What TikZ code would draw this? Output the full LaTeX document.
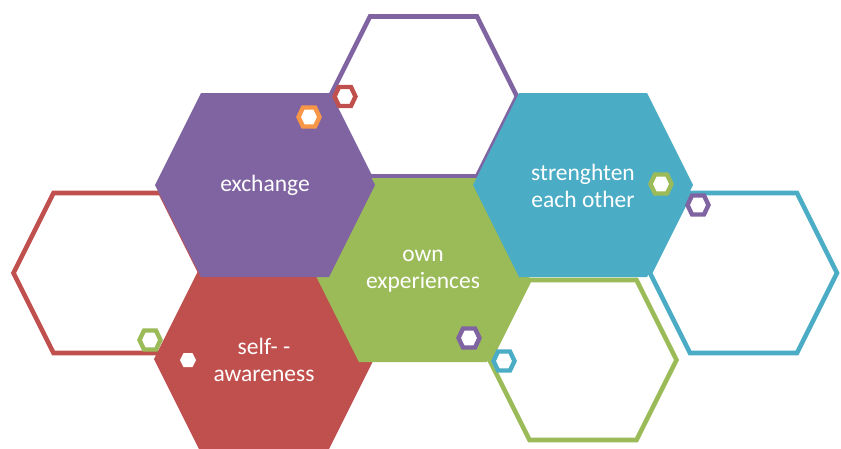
\documentclass[tikz,border=0pt]{standalone}
\usepackage{fontspec}
\setmainfont{Carlito}
\definecolor{hpurple}{HTML}{8064A2}
\definecolor{hred}{HTML}{C0504D}
\definecolor{hgreen}{HTML}{9BBB59}
\definecolor{hblue}{HTML}{4BACC6}
\definecolor{horange}{HTML}{F79646}
% \hexat[style]{cx}{cy}{half width}{half top edge}{half height}
\newcommand{\hexat}[6][]{%
  \path[#1] (#2-#4,#3) -- (#2-#5,#3-#6) -- (#2+#5,#3-#6) -- (#2+#4,#3)
    -- (#2+#5,#3+#6) -- (#2-#5,#3+#6) -- cycle;}
% big filled cell, outlined cell, small ring, tiny dot
\newcommand{\bighex}[3]{\hexat[fill=#1]{#2}{#3}{110}{64}{92}}
\newcommand{\ringhex}[3]{\hexat[draw=#1,line width=4.6pt,fill=white]{#2}{#3}{93.5}{53.5}{80}}
\newcommand{\smallhex}[3]{\hexat[draw=#1,line width=4.4pt,fill=white]{#2}{#3}{10.5}{6}{9.5}}
\tikzset{
  label/.style={text=white, align=center, font=\fontsize{23.5}{27}\selectfont, inner sep=0pt}
}
\begin{document}
\begin{tikzpicture}[x=1pt,y=-1pt]
  \useasboundingbox (0,0) rectangle (841,448);
  % outlined cells
  \ringhex{hpurple}{423.5}{96.5}
  \ringhex{hred}{107}{273}
  \ringhex{hblue}{743.5}{273}
  \ringhex{hgreen}{583}{360}
  % filled cells
  \bighex{hred}{264}{359}
  \bighex{hgreen}{423}{270}
  \bighex{hpurple}{265}{185}
  \bighex{hblue}{583}{185}
  % labels
  \node[label] (exchange) at (265,185) {exchange};
  \node[label] (own) at (423,271) {own\\experiences};
  \node[label] (strength) at (583,186) {strenghten\\each other};
  \node[label] (self) at (264,360) {self- -\\awareness};
  % small rings
  \smallhex{hred}{345}{96.5}
  \smallhex{horange}{309}{117}
  \smallhex{hgreen}{150}{340}
  \smallhex{hgreen}{661}{184}
  \smallhex{hpurple}{698}{205}
  \smallhex{hpurple}{469}{338}
  \smallhex{hblue}{504}{361}
  \hexat[fill=white]{188}{360}{8}{4.5}{7}
\end{tikzpicture}
\end{document}
